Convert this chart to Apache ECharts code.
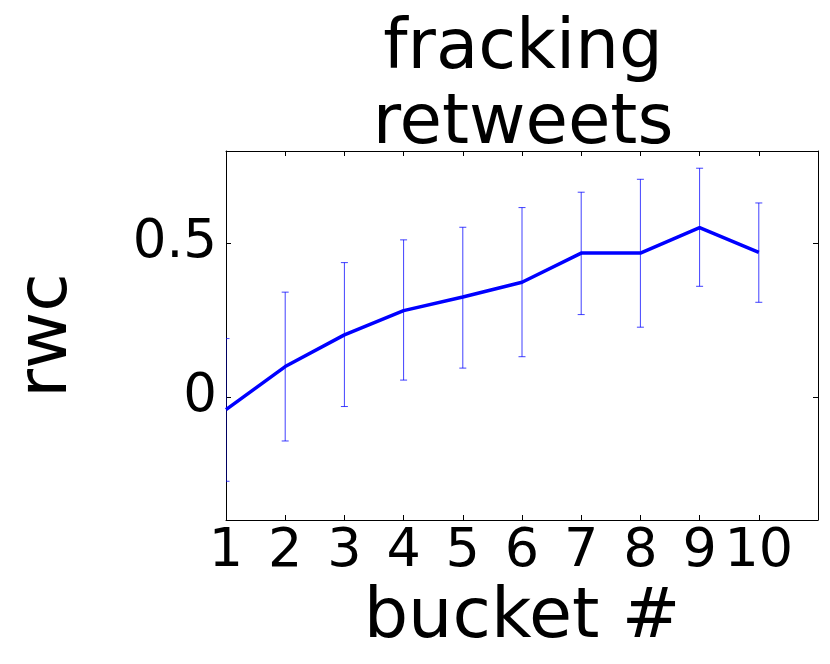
<!DOCTYPE html>
<html>
<head>
<meta charset="utf-8">
<script src="https://cdn.jsdelivr.net/npm/echarts@6/dist/echarts.min.js"></script>
<style>
  html, body { margin: 0; padding: 0; background: #fff; }
  #chart { width: 830px; height: 664px; }
</style>
</head>
<body>
<div id="chart"></div>
<script>
const titleText = "fracking\nretweets";
const xAxisName = "bucket #";
const yAxisName = "rwc";
const buckets = [1, 2, 3, 4, 5, 6, 7, 8, 9, 10];
const rwc = [-0.041, 0.099, 0.202, 0.281, 0.325, 0.373, 0.468, 0.468, 0.551, 0.470];
const errLow = [-0.274, -0.143, -0.031, 0.055, 0.094, 0.131, 0.268, 0.227, 0.360, 0.308];
const errHigh = [0.190, 0.341, 0.437, 0.511, 0.552, 0.616, 0.666, 0.708, 0.744, 0.631];
const xTicks = [1, 2, 3, 4, 5, 6, 7, 8, 9, 10];
const yTicks = [0, 0.5];

const FONT = "DejaVu Sans";
const chart = echarts.init(document.getElementById('chart'), null, { renderer: 'canvas' });

const lineData = buckets.map((b, i) => [b, rwc[i]]);
const errData = buckets.map((b, i) => [b, errLow[i], errHigh[i]]);

const frameAxisLine = { show: true, onZero: false, lineStyle: { color: '#000', width: 1 } };

const option = {
  animation: false,
  backgroundColor: '#fff',
  title: {
    text: titleText,
    left: 518,
    textAlign: 'center',
    top: 8,
    textStyle: { fontFamily: FONT, fontSize: 69, fontWeight: 'normal', color: '#000', lineHeight: 75 }
  },
  grid: { left: 226, right: 12, top: 151, bottom: 144, containLabel: false },
  xAxis: [
    {
      type: 'value', min: 1, max: 11, position: 'bottom',
      axisLine: frameAxisLine,
      axisTick: { show: true, inside: true, length: 5, customValues: xTicks, lineStyle: { color: '#000' } },
      axisLabel: { show: true, customValues: xTicks, margin: 5, fontFamily: FONT, fontSize: 54, color: '#000' },
      splitLine: { show: false },
      name: xAxisName, nameLocation: 'middle', nameGap: 59,
      nameTextStyle: { fontFamily: FONT, fontSize: 70, color: '#000' }
    },
    {
      type: 'value', min: 1, max: 11, position: 'top',
      axisLine: frameAxisLine,
      axisTick: { show: true, inside: true, length: 5, customValues: xTicks, lineStyle: { color: '#000' } },
      axisLabel: { show: false },
      splitLine: { show: false }
    }
  ],
  yAxis: [
    {
      type: 'value', min: -0.4, max: 0.8, position: 'left',
      axisLine: frameAxisLine,
      axisTick: { show: true, inside: true, length: 5, customValues: yTicks, lineStyle: { color: '#000' } },
      axisLabel: { show: true, customValues: yTicks, margin: 9, fontFamily: FONT, fontSize: 53, color: '#000',
        formatter: v => String(v) },
      splitLine: { show: false },
      name: yAxisName, nameLocation: 'middle', nameGap: 143, nameRotate: 90,
      nameTextStyle: { fontFamily: FONT, fontSize: 70, color: '#000' }
    },
    {
      type: 'value', min: -0.4, max: 0.8, position: 'right',
      axisLine: frameAxisLine,
      axisTick: { show: true, inside: true, length: 5, customValues: yTicks, lineStyle: { color: '#000' } },
      axisLabel: { show: false },
      splitLine: { show: false }
    }
  ],
  series: [
    {
      type: 'custom',
      xAxisIndex: 0, yAxisIndex: 0,
      clip: true,
      z: 2,
      data: errData,
      renderItem: function (params, api) {
        const x = api.value(0);
        const lo = api.coord([x, api.value(1)]);
        const hi = api.coord([x, api.value(2)]);
        const cap = 3.5;
        const style = { stroke: 'rgba(0,0,255,0.75)', lineWidth: 1 };
        return {
          type: 'group',
          children: [
            { type: 'line', shape: { x1: lo[0], y1: lo[1], x2: hi[0], y2: hi[1] }, style: style },
            { type: 'line', shape: { x1: lo[0] - cap, y1: lo[1], x2: lo[0] + cap, y2: lo[1] }, style: style },
            { type: 'line', shape: { x1: hi[0] - cap, y1: hi[1], x2: hi[0] + cap, y2: hi[1] }, style: style }
          ]
        };
      }
    },
    {
      type: 'line',
      xAxisIndex: 0, yAxisIndex: 0,
      data: lineData,
      showSymbol: false,
      symbol: 'none',
      z: 3,
      lineStyle: { color: '#0000ff', width: 3.5 }
    }
  ]
};
chart.setOption(option);
</script>
</body>
</html>
